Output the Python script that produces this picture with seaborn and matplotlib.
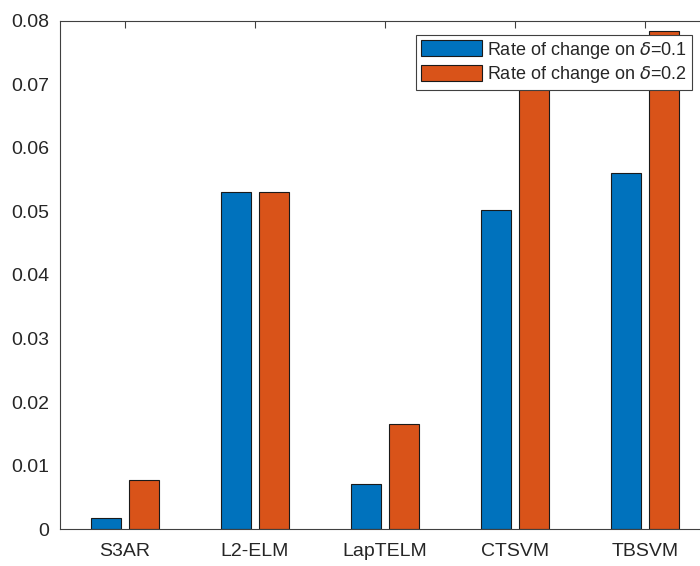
import matplotlib
matplotlib.use("Agg")
import matplotlib.pyplot as plt
import seaborn as sns
import pandas as pd

methods = ["S3AR", "L2-ELM", "LapTELM", "CTSVM", "TBSVM"]
rate_d01 = [0.0018, 0.0530, 0.0071, 0.0502, 0.0561]
rate_d02 = [0.0078, 0.0530, 0.0166, 0.0740, 0.0784]
series_names = [r"Rate of change on $\delta$=0.1", r"Rate of change on $\delta$=0.2"]
yticks = [0, 0.01, 0.02, 0.03, 0.04, 0.05, 0.06, 0.07, 0.08]
ytick_labels = ["0", "0.01", "0.02", "0.03", "0.04", "0.05", "0.06", "0.07", "0.08"]

df = pd.DataFrame({
    "method": methods * 2,
    "value": rate_d01 + rate_d02,
    "series": [series_names[0]] * len(methods) + [series_names[1]] * len(methods),
})

sns.set_style("white")
plt.rcParams["font.family"] = ["Liberation Sans", "DejaVu Sans"]
plt.rcParams["mathtext.fontset"] = "dejavusans"

fig = plt.figure(figsize=(7.0, 5.66), dpi=100)
W, H = 700, 566
left, right, top, bottom = 60, 710, 20.5, 529.3
ax = fig.add_axes([left / W, (H - bottom) / H, (right - left) / W, (bottom - top) / H])

sns.barplot(data=df, x="method", y="value", hue="series", order=methods,
            hue_order=series_names, palette=["#0072BD", "#D95319"],
            saturation=1, width=0.58, gap=0.2, edgecolor="#1a1a1a",
            linewidth=0.8, ax=ax, errorbar=None)

ax.set_xlim(-0.5, 4.5)
ax.set_ylim(0, 0.08)
ax.set_yticks(yticks)
ax.set_yticklabels(ytick_labels)
ax.set_xlabel("")
ax.set_ylabel("")

axc = "#404040"
for s in ax.spines.values():
    s.set_color(axc)
    s.set_linewidth(0.8)
    s.set_visible(True)
ax.tick_params(axis="both", direction="in", length=5, width=0.8, color=axc,
               labelcolor="#262626", labelsize=14)
ax.tick_params(axis="y", pad=8, right=True)
ax.tick_params(axis="x", pad=10, top=True)

handles, labels = ax.get_legend_handles_labels()
leg = ax.legend(handles, labels, loc="upper right",
                bbox_to_anchor=((691.7 - left) / (right - left), (bottom - 35) / (bottom - top)),
                borderaxespad=0, fancybox=False, framealpha=1, edgecolor="#404040",
                fontsize=13, handlelength=3.4, handleheight=1.0, labelspacing=0.2,
                borderpad=0.25, handletextpad=0.3)
leg.get_frame().set_linewidth(0.8)
for t in leg.get_texts():
    t.set_color("#262626")

fig.savefig("out.png", dpi=100)
